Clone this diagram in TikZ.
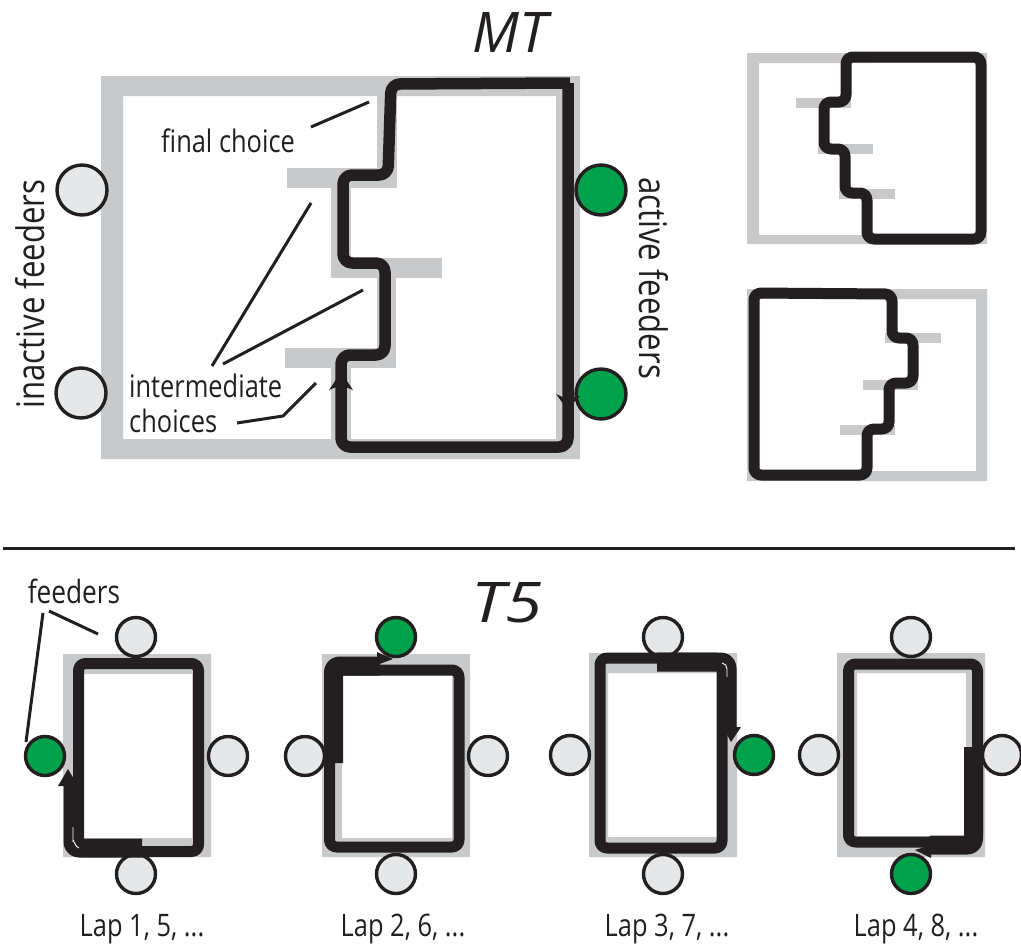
\documentclass[tikz,border=0pt]{standalone}
\usepackage{fontspec}
\setmainfont{Open Sans}[FakeStretch=0.82]
\newfontfamily\mtfont{Open Sans}[FakeStretch=1.0]
\newfontfamily\tfivefont{Open Sans}[FakeStretch=1.2]
\definecolor{bandgray}{HTML}{C7C9CB}
\definecolor{pathblack}{HTML}{231F20}
\definecolor{feedgreen}{HTML}{00A14B}
\definecolor{feedgray}{HTML}{E6E7E8}
\tikzset{
  band/.style={fill=bandgray,draw=none},
  route/.style={draw=pathblack,line width=11pt,rounded corners=7pt,line join=round},
  heavy/.style={draw=pathblack,line width=19pt,line join=round},
  tip/.style={fill=pathblack,draw=none},
  leader/.style={draw=pathblack,line width=3pt},
  glint/.style={draw=white,line width=0.9pt},
  feeder/.style={circle,draw=pathblack,line width=3.4pt,minimum size=39pt,inner sep=0pt,fill=feedgray},
  bigfeeder/.style={feeder,minimum size=50pt},
  active/.style={fill=feedgreen},
  lbl/.style={text=pathblack,font=\fontsize{31}{33}\selectfont,inner sep=0pt,align=left},
  lap/.style={text=pathblack,font=\fontsize{31}{33}\selectfont,inner sep=0pt},
  sidelbl/.style={text=pathblack,font=\fontsize{38}{40}\selectfont,inner sep=0pt},
  ttl/.style={text=pathblack,inner sep=0pt},
}
\begin{document}
\begin{tikzpicture}[x=1pt,y=-1pt]
\useasboundingbox (0,0) rectangle (1021,948);
% ---------- MT main maze
\fill[band,even odd rule] (101,76) rectangle (580,459) (123,96) rectangle (556,439);
\fill[band] (377,96) rectangle (397,188);
\fill[band] (287,168) rectangle (397,188);
\fill[band] (331,188) rectangle (351,278);
\fill[band] (331,258) rectangle (442,278);
\fill[band] (377,278) rectangle (396,368);
\fill[band] (285,348) rectangle (396,368);
\fill[band] (331,368) rectangle (351,439);
\node[bigfeeder] (ml1) at (82,190) {};
\node[bigfeeder] (ml2) at (81,393) {};
\node[bigfeeder,active] (mr1) at (601,190) {};
\node[bigfeeder,active] (mr2) at (601,394) {};
\draw[route,line width=11.5pt,rounded corners=9pt] (570,83) -- (391,84) -- (388,175) -- (343,175) -- (343,263) -- (385,263) -- (385,355) -- (341,355) -- (341,447) -- (568,447) -- (568,83);
\fill[tip] (341,372) -- (353,390) -- (341,385) -- (329,390) -- cycle;
\fill[tip] (567,409) -- (556,394) -- (567,399) -- (580,396) -- cycle;
% leaders
\node[lbl,anchor=base west] (fc) at (161,152) {final choice};
\node[lbl,anchor=base west] (ic1) at (129,397) {intermediate};
\node[lbl,anchor=base west] (ic2) at (129,432) {choices};
\coordinate (fa) at (311,127); \coordinate (fb) at (369,102);
\coordinate (ia) at (212,366); \coordinate (ib) at (311,203);
\coordinate (ic) at (223,364); \coordinate (id) at (363,290);
\coordinate (ie) at (237,423); \coordinate (if) at (283,416); \coordinate (ig) at (316,383);
\draw[leader] (fa) -- (fb);
\draw[leader] (ia) -- (ib);
\draw[leader] (ic) -- (id);
\draw[leader] (ie) -- (if) -- (ig);
\node[ttl,font=\fontsize{56}{58}\selectfont\mtfont\itshape] (mt) at (510,33) {MT};
\node[sidelbl,rotate=90] (inact) at (30,294) {inactive feeders};
\node[sidelbl,rotate=-90] (act) at (654,278) {active feeders};
% ---------- right panel A
\fill[band,even odd rule] (747,53) rectangle (987,244) (759,63) rectangle (976,235);
\fill[white] (870,63) rectangle (987,235);
\fill[band] (796,98) rectangle (851,108);
\fill[band] (818,144) rectangle (873,154);
\fill[band] (839,189) rectangle (895,199);
\draw[route] (846,57) -- (981,57) -- (981,239) -- (867,239) -- (867,193) -- (845,193) -- (845,149) -- (824,149) -- (824,102) -- (846,102) -- cycle;
% ---------- right panel B
\fill[band,even odd rule] (747,289) rectangle (987,481) (758,299) rectangle (976,471);
\fill[band] (885,333) rectangle (941,343);
\fill[band] (863,380) rectangle (918,390);
\fill[band] (840,425) rectangle (895,435);
\draw[route] (754,293) -- (892,294) -- (892,338) -- (913,338) -- (913,383) -- (889,383) -- (889,429) -- (867,429) -- (867,475) -- (754,475) -- cycle;
% ---------- divider
\coordinate (da) at (3,548); \coordinate (db) at (1015,548);
\draw[pathblack,line width=3pt] (da) -- (db);
\node[ttl,font=\fontsize{56}{58}\selectfont\tfivefont\itshape] (t5) at (507,603) {T5};
% ---------- Lap 1
\fill[band,even odd rule] (63,654) rectangle (211,857) (83,674) rectangle (192,838);
\node[feeder] (a1) at (136,637) {};
\node[feeder,active] (a2) at (45,756) {};
\node[feeder] (a3) at (228,756) {};
\node[feeder] (a4) at (136,874) {};
\draw[route] (78.5,663.5) rectangle (198.5,851.5);
\draw[heavy,rounded corners=6pt] (142,848) -- (73,848) -- (73,783);
\fill[tip] (68,769) -- (78,786) -- (58,786) -- cycle;
\draw[glint] (73,827) -- (73,841) to[out=90,in=180] (79,848);
\node[lap,anchor=base] (l1) at (142,936) {Lap 1, 5, ...};
\node[lbl,font=\fontsize{32}{34}\selectfont,anchor=base] (fd) at (74,603) {feeders};
\coordinate (g1) at (43,613); \coordinate (g2) at (26,742);
\coordinate (g3) at (49,611); \coordinate (g4) at (98,634);
\draw[leader] (g1) -- (g2);
\draw[leader] (g3) -- (g4);
% ---------- Lap 2
\fill[band,even odd rule] (322,654) rectangle (470,857) (342,675) rectangle (452,838);
\node[feeder,active] (b1) at (396,637) {};
\node[feeder] (b2) at (305,756) {};
\node[feeder] (b3) at (488,756) {};
\node[feeder] (b4) at (396,874) {};
\draw[route] (329.5,670) rectangle (459,847);
\draw[heavy,rounded corners=6pt] (333.5,763) -- (333.5,666) -- (380,666);
\fill[tip] (393,659) -- (377,665) -- (377,652) -- cycle;
\node[lap,anchor=base] (l2) at (403,936) {Lap 2, 6, ...};
% ---------- Lap 3
\fill[band,even odd rule] (589,653) rectangle (737,857) (608,673) rectangle (717,837);
\node[feeder] (c1) at (663,637) {};
\node[feeder] (c2) at (570,755) {};
\node[feeder,active] (c3) at (754,755) {};
\node[feeder] (c4) at (663,874) {};
\draw[route] (600,658) rectangle (722,848);
\draw[heavy,rounded corners=6pt] (657,662) -- (727,662) -- (727,727);
\fill[tip] (731,742) -- (723,727) -- (741,727) -- cycle;
\draw[glint] (722,663) to[out=0,in=90] (727,669) -- (727,677);
\node[lap,anchor=base] (l3) at (667,936) {Lap 3, 7, ...};
% ---------- Lap 4
\fill[band,even odd rule] (837,653) rectangle (985,857) (857,673) rectangle (966,836);
\node[feeder] (d1) at (911,637) {};
\node[feeder] (d2) at (819,755) {};
\node[feeder] (d3) at (1002,755) {};
\node[feeder,active] (d4) at (911,874) {};
\draw[route] (848.5,664) rectangle (977.5,842);
\draw[heavy,rounded corners=6pt] (973.5,747) -- (973.5,845) -- (930,845);
\fill[tip] (915,850) -- (931,845) -- (931,858) -- cycle;
\node[lap,anchor=base] (l4) at (916,936) {Lap 4, 8, ...};
\end{tikzpicture}
\end{document}
